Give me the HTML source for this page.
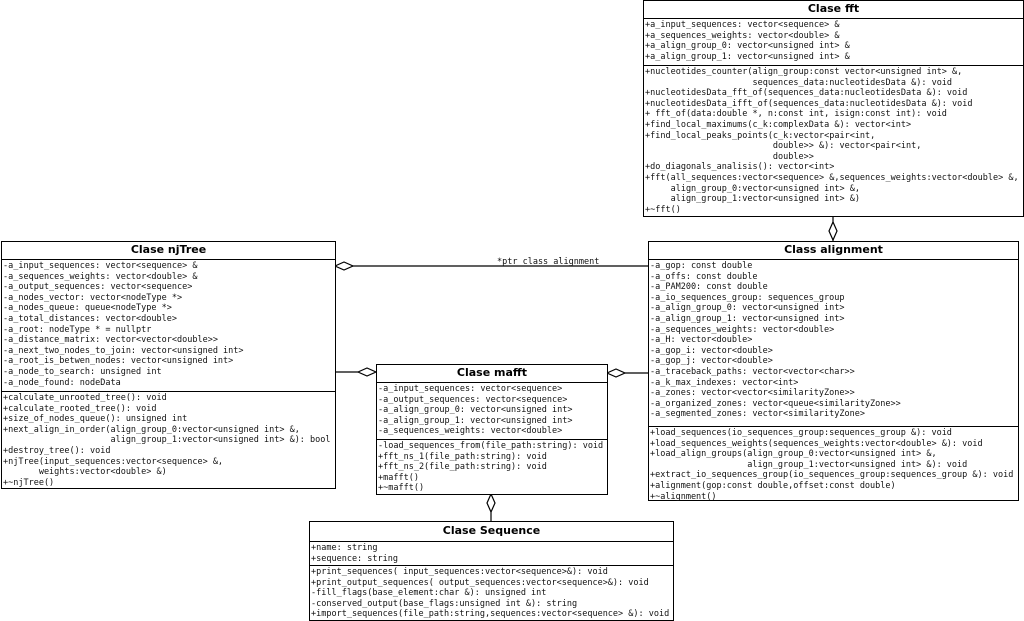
<!DOCTYPE html>
<html><head><meta charset="utf-8"><style>
body{margin:0;width:1024px;height:621px;background:#fff;position:relative;overflow:hidden}
.b{position:absolute;border:1px solid #000;background:#fff;box-sizing:border-box}
.t{font:bold 11px "DejaVu Sans","Liberation Sans",sans-serif;text-align:center;border-bottom:1px solid #000;box-sizing:border-box;line-height:16px}
.s{font:8.5px "DejaVu Sans Mono","Liberation Mono",monospace;white-space:pre;line-height:10.6px;padding:1px 0 0 1px;box-sizing:border-box;color:#111;overflow:hidden}
.s+.s{border-top:1px solid #000}
svg{position:absolute;left:0;top:0}
</style></head><body>
<svg width="1024" height="621">
<g stroke="#000" stroke-width="1.2" fill="#fff">
<line x1="833" y1="216" x2="833" y2="241"/>
<polygon points="833,222 837,231 833,240 829,231"/>
<line x1="352" y1="266" x2="648" y2="266"/>
<polygon points="335,266 344,262 353,266 344,270"/>
<line x1="335" y1="372" x2="358" y2="372"/>
<polygon points="358,372 367,368 376,372 367,376"/>
<line x1="625" y1="373" x2="648" y2="373"/>
<polygon points="607,373 616,369 625,373 616,377"/>
<line x1="491" y1="512" x2="491" y2="521"/>
<polygon points="491,494 495,503 491,512 487,503"/>
</g>
<text x="497" y="264" font-family="DejaVu Sans Mono,monospace" font-size="8.5" fill="#111">*ptr class alignment</text>
</svg>

<div class="b" style="left:643px;top:0;width:381px;height:217px">
<div class="t" style="height:18px">Clase fft</div>
<div class="s" style="height:46px">+a_input_sequences: vector&lt;sequence&gt; &amp;
+a_sequences_weights: vector&lt;double&gt; &amp;
+a_align_group_0: vector&lt;unsigned int&gt; &amp;
+a_align_group_1: vector&lt;unsigned int&gt; &amp;</div>
<div class="s">+nucleotides_counter(align_group:const vector&lt;unsigned int&gt; &amp;,
                     sequences_data:nucleotidesData &amp;): void
+nucleotidesData_fft_of(sequences_data:nucleotidesData &amp;): void
+nucleotidesData_ifft_of(sequences_data:nucleotidesData &amp;): void
+ fft_of(data:double *, n:const int, isign:const int): void
+find_local_maximums(c_k:complexData &amp;): vector&lt;int&gt;
+find_local_peaks_points(c_k:vector&lt;pair&lt;int,
                         double&gt;&gt; &amp;): vector&lt;pair&lt;int,
                         double&gt;&gt;
+do_diagonals_analisis(): vector&lt;int&gt;
+fft(all_sequences:vector&lt;sequence&gt; &amp;,sequences_weights:vector&lt;double&gt; &amp;,
     align_group_0:vector&lt;unsigned int&gt; &amp;,
     align_group_1:vector&lt;unsigned int&gt; &amp;)
+~fft()</div>
</div>

<div class="b" style="left:1px;top:241px;width:335px;height:248px">
<div class="t" style="height:18px">Clase njTree</div>
<div class="s" style="height:131px">-a_input_sequences: vector&lt;sequence&gt; &amp;
-a_sequences_weights: vector&lt;double&gt; &amp;
-a_output_sequences: vector&lt;sequence&gt;
-a_nodes_vector: vector&lt;nodeType *&gt;
-a_nodes_queue: queue&lt;nodeType *&gt;
-a_total_distances: vector&lt;double&gt;
-a_root: nodeType * = nullptr
-a_distance_matrix: vector&lt;vector&lt;double&gt;&gt;
-a_next_two_nodes_to_join: vector&lt;unsigned int&gt;
-a_root_is_betwen_nodes: vector&lt;unsigned int&gt;
-a_node_to_search: unsigned int
-a_node_found: nodeData</div>
<div class="s">+calculate_unrooted_tree(): void
+calculate_rooted_tree(): void
+size_of_nodes_queue(): unsigned int
+next_align_in_order(align_group_0:vector&lt;unsigned int&gt; &amp;,
                     align_group_1:vector&lt;unsigned int&gt; &amp;): bool
+destroy_tree(): void
+njTree(input_sequences:vector&lt;sequence&gt; &amp;,
       weights:vector&lt;double&gt; &amp;)
+~njTree()</div>
</div>

<div class="b" style="left:648px;top:241px;width:371px;height:260px">
<div class="t" style="height:18px">Class alignment</div>
<div class="s" style="height:166px">-a_gop: const double
-a_offs: const double
-a_PAM200: const double
-a_io_sequences_group: sequences_group
-a_align_group_0: vector&lt;unsigned int&gt;
-a_align_group_1: vector&lt;unsigned int&gt;
-a_sequences_weights: vector&lt;double&gt;
-a_H: vector&lt;double&gt;
-a_gop_i: vector&lt;double&gt;
-a_gop_j: vector&lt;double&gt;
-a_traceback_paths: vector&lt;vector&lt;char&gt;&gt;
-a_k_max_indexes: vector&lt;int&gt;
-a_zones: vector&lt;vector&lt;similarityZone&gt;&gt;
-a_organized_zones: vector&lt;queue&lt;similarityZone&gt;&gt;
-a_segmented_zones: vector&lt;similarityZone&gt;</div>
<div class="s">+load_sequences(io_sequences_group:sequences_group &amp;): void
+load_sequences_weights(sequences_weights:vector&lt;double&gt; &amp;): void
+load_align_groups(align_group_0:vector&lt;unsigned int&gt; &amp;,
                   align_group_1:vector&lt;unsigned int&gt; &amp;): void
+extract_io_sequences_group(io_sequences_group:sequences_group &amp;): void
+alignment(gop:const double,offset:const double)
+~alignment()</div>
</div>

<div class="b" style="left:376px;top:364px;width:232px;height:131px">
<div class="t" style="height:18px">Clase mafft</div>
<div class="s" style="height:56px">-a_input_sequences: vector&lt;sequence&gt;
-a_output_sequences: vector&lt;sequence&gt;
-a_align_group_0: vector&lt;unsigned int&gt;
-a_align_group_1: vector&lt;unsigned int&gt;
-a_sequences_weights: vector&lt;double&gt;</div>
<div class="s">-load_sequences_from(file_path:string): void
+fft_ns_1(file_path:string): void
+fft_ns_2(file_path:string): void
+mafft()
+~mafft()</div>
</div>

<div class="b" style="left:309px;top:521px;width:365px;height:100px">
<div class="t" style="height:20px;line-height:18px">Clase Sequence</div>
<div class="s" style="height:23px">+name: string
+sequence: string</div>
<div class="s">+print_sequences( input_sequences:vector&lt;sequence&gt;&amp;): void
+print_output_sequences( output_sequences:vector&lt;sequence&gt;&amp;): void
-fill_flags(base_element:char &amp;): unsigned int
-conserved_output(base_flags:unsigned int &amp;): string
+import_sequences(file_path:string,sequences:vector&lt;sequence&gt; &amp;): void</div>
</div>
</body></html>
